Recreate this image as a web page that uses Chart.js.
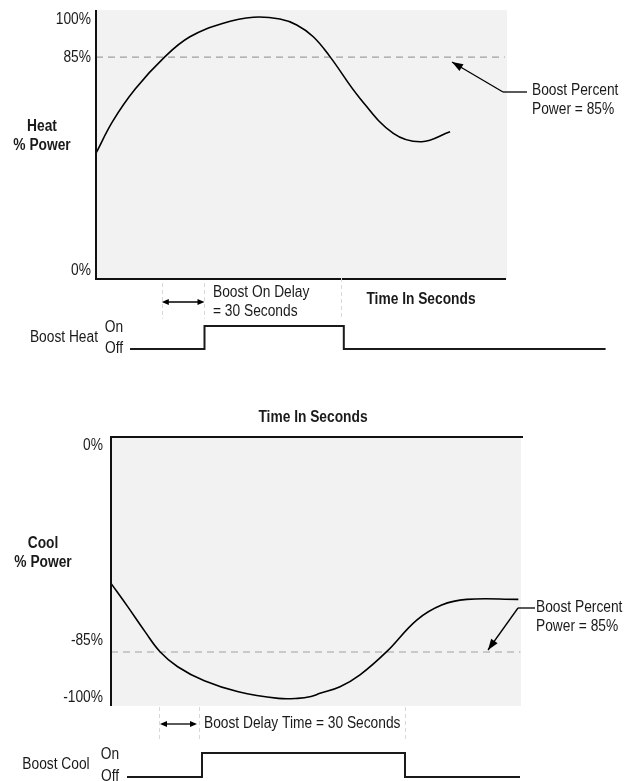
<!DOCTYPE html>
<html><head><meta charset="utf-8">
<script src="https://cdn.jsdelivr.net/npm/chart.js@4/dist/chart.umd.min.js"></script>
<style>html,body{margin:0;padding:0;background:#fff}canvas{display:block}</style>
</head><body>
<canvas id="heat" width="630" height="390"></canvas>
<canvas id="cool" width="630" height="391"></canvas>
<script>
// ---------- DATA ----------
// Heat chart: time (s) vs % power
const heatTime  = [0, 12, 28, 49.3, 67.1, 90.9, 112.4, 131.4, 143.4, 155.2, 167.1, 188.6, 212.4, 232.6, 252.9];
const heatPower = [48.2, 60.5, 72.8, 85.2, 92.8, 98.0, 100.3, 99.6, 97.3, 92.8, 85.2, 69.2, 55.8, 52.6, 56.4];
const heatBoostPercent = 85;
const heatTickLabels = ['100%', '85%', '0%'];
const heatSignalTime  = [24.3, 77.5, 77.5, 177, 177, 364];
const heatSignalState = [0, 0, 1, 1, 0, 0];
const heatMarkers = [47, 77.5, 175];

// Cool chart: time (s) vs % power
const coolTime  = [0, 12, 25.5, 36.75, 50, 70, 95.5, 125.5, 140, 150, 156.75, 171.75, 186.75, 206.75, 229.3, 248, 266.8, 305.5];
const coolPower = [-63.1, -70.2, -78.5, -84.9, -89.7, -94.2, -97.7, -99.8, -99.8, -99.2, -98.2, -96.1, -92.3, -84.9, -74.8, -70.0, -68.2, -68.2];
const coolBoostPercent = -85;
const coolTickLabels = ['0%', '-85%', '-100%'];
const coolSignalTime  = [12, 68.25, 68.25, 220.5, 220.5, 306.75];
const coolSignalState = [0, 0, 1, 1, 0, 0];
const coolMarkers = [36, 66, 220.5];

// ---------- HELPERS ----------
const W = 630;
function yRange(v0, p0, v1, p1, H) { const k = (p1 - p0) / (v0 - v1); const max = v0 + p0 / k; return {min: max - H / k, max}; }
function xRange(x0, r) { const min = -x0 / r; return {min, max: min + W / r}; }
const FONT = '"Liberation Sans", Arial, Helvetica, sans-serif';
const INK = '#1a1a1a';
function txt(ctx, s, x, y, align, bold) {
  ctx.save();
  ctx.translate(x, y);
  ctx.scale(0.86, 1);
  ctx.font = (bold ? 'bold ' : '') + '16px ' + FONT;
  ctx.fillStyle = INK;
  ctx.textAlign = align;
  ctx.textBaseline = 'middle';
  ctx.fillText(s, 0, 0);
  ctx.restore();
}
function line(ctx, x1, y1, x2, y2, w, c, dash) {
  ctx.save(); ctx.beginPath(); ctx.lineWidth = w; ctx.strokeStyle = c; ctx.setLineDash(dash || []);
  ctx.moveTo(x1, y1); ctx.lineTo(x2, y2); ctx.stroke(); ctx.restore();
}
function head(ctx, fx, fy, tx, ty, len, hw) {
  const a = Math.atan2(ty - fy, tx - fx);
  ctx.save(); ctx.fillStyle = '#000'; ctx.beginPath();
  ctx.moveTo(tx, ty);
  ctx.lineTo(tx - len * Math.cos(a) + hw * Math.sin(a), ty - len * Math.sin(a) - hw * Math.cos(a));
  ctx.lineTo(tx - len * Math.cos(a) - hw * Math.sin(a), ty - len * Math.sin(a) + hw * Math.cos(a));
  ctx.closePath(); ctx.fill(); ctx.restore();
}
function arrow(ctx, fx, fy, tx, ty, len, hw) { line(ctx, fx, fy, tx, ty, 1.3, '#000'); head(ctx, fx, fy, tx, ty, len, hw); }
function dblArrow(ctx, x1, x2, y) { line(ctx, x1 + 3, y, x2 - 3, y, 1.3, '#000'); head(ctx, x2, y, x1, y, 7, 3); head(ctx, x1, y, x2, y, 7, 3); }

function pts(xs, ys) { return xs.map((t, i) => ({x: t, y: ys[i]})); }

function makeChart(id, H, cfg) {
  return new Chart(document.getElementById(id), {
    type: 'line',
    data: {datasets: [
      {data: pts(cfg.time, cfg.power), yAxisID: 'y', borderColor: '#000', borderWidth: 1.6, pointRadius: 0, tension: 0.4, fill: false},
      {data: [{x: 0, y: cfg.boost}, {x: cfg.dashEnd, y: cfg.boost}], yAxisID: 'y', borderColor: '#a0a0a0', borderWidth: 1.2, borderDash: [7, 5], pointRadius: 0, fill: false},
      {data: pts(cfg.sigTime, cfg.sigState), yAxisID: 's', borderColor: '#1a1a1a', borderWidth: 2, pointRadius: 0, tension: 0, fill: false}
    ]},
    options: {
      responsive: false, animation: false, events: [],
      layout: {padding: 0},
      plugins: {legend: {display: false}, tooltip: {enabled: false}},
      scales: {
        x: Object.assign({type: 'linear', display: false}, cfg.xr),
        y: Object.assign({type: 'linear', display: false}, cfg.yr),
        s: Object.assign({type: 'linear', display: false}, cfg.sr)
      }
    },
    plugins: [{
      id: 'decor' + id,
      beforeDatasetsDraw(chart) { cfg.back(chart.ctx, chart); },
      afterDatasetsDraw(chart) { cfg.front(chart.ctx, chart); }
    }]
  });
}

// ---------- HEAT CHART ----------
makeChart('heat', 390, {
  time: heatTime, power: heatPower, boost: heatBoostPercent, dashEnd: 292,
  sigTime: heatSignalTime, sigState: heatSignalState,
  xr: xRange(96, 1.4),
  yr: yRange(100, 18, 0, 279, 390),
  sr: yRange(1, 326, 0, 349, 390),
  back(ctx, ch) {
    const x = ch.scales.x, y = ch.scales.y;
    ctx.save(); ctx.fillStyle = '#f2f2f2';
    ctx.fillRect(x.getPixelForValue(0), 10, 507 - x.getPixelForValue(0), y.getPixelForValue(0) - 10);
    ctx.restore();
  },
  front(ctx, ch) {
    const x = ch.scales.x, y = ch.scales.y;
    const x0 = x.getPixelForValue(0), yb = y.getPixelForValue(0);
    line(ctx, x0, 10, x0, yb + 1, 2, '#111');
    line(ctx, x0 - 1, yb, 506, yb, 2, '#111');
    heatMarkers.forEach((t, i) => {
      const px = Math.round(x.getPixelForValue(t)) + 0.5;
      line(ctx, px, i === 2 ? yb - 1 : 283, px, 319, 1, '#d8d8d8', [4, 3]);
    });
    dblArrow(ctx, x.getPixelForValue(heatMarkers[0]), x.getPixelForValue(heatMarkers[1]), 302);
    // tick labels
    txt(ctx, heatTickLabels[0], 91, 20, 'right');
    txt(ctx, heatTickLabels[1], 91, y.getPixelForValue(85), 'right');
    txt(ctx, heatTickLabels[2], 91, 271, 'right');
    txt(ctx, 'Heat', 42, 127, 'center', true);
    txt(ctx, '% Power', 42, 146, 'center', true);
    // annotation
    line(ctx, 503, 92, 527, 92, 1.3, '#000');
    arrow(ctx, 503, 92, 452, 62, 11, 4);
    txt(ctx, 'Boost Percent', 532, 91, 'left');
    txt(ctx, 'Power = 85%', 532, 110, 'left');
    txt(ctx, 'Boost On Delay', 213, 293, 'left');
    txt(ctx, '= 30 Seconds', 213, 312, 'left');
    txt(ctx, 'Time In Seconds', 421, 300, 'center', true);
    txt(ctx, 'Boost Heat', 98, 338, 'right');
    txt(ctx, 'On', 114, 328, 'center');
    txt(ctx, 'Off', 114, 349, 'center');
  }
});

// ---------- COOL CHART ----------
makeChart('cool', 391, {
  time: coolTime, power: coolPower, boost: coolBoostPercent, dashEnd: 307,
  sigTime: coolSignalTime, sigState: coolSignalState,
  xr: xRange(111, 40 / 30),
  yr: yRange(-85, 262, -100, 309, 391),
  sr: yRange(1, 363, 0, 387, 391),
  back(ctx, ch) {
    const x = ch.scales.x;
    const x0 = x.getPixelForValue(0);
    ctx.save(); ctx.fillStyle = '#f2f2f2';
    ctx.fillRect(x0, 47, 521 - x0, 316 - 47);
    ctx.restore();
  },
  front(ctx, ch) {
    const x = ch.scales.x, y = ch.scales.y;
    const x0 = x.getPixelForValue(0);
    line(ctx, x0 - 1, 47, 523, 47, 2, '#111');
    line(ctx, x0, 46, x0, 316, 2, '#111');
    coolMarkers.forEach((t) => {
      const px = Math.round(x.getPixelForValue(t)) + 0.5;
      line(ctx, px, 317, px, 351, 1, '#d8d8d8', [4, 3]);
    });
    dblArrow(ctx, x.getPixelForValue(coolMarkers[0]) + 1, x.getPixelForValue(coolMarkers[1]) - 2, 334);
    txt(ctx, 'Time In Seconds', 313, 28, 'center', true);
    txt(ctx, coolTickLabels[0], 103, 56, 'right');
    txt(ctx, coolTickLabels[1], 103, y.getPixelForValue(-85) - 11, 'right');
    txt(ctx, coolTickLabels[2], 103, 308, 'right');
    txt(ctx, 'Cool', 43, 154, 'center', true);
    txt(ctx, '% Power', 43, 173, 'center', true);
    line(ctx, 518, 218, 535, 218, 1.3, '#000');
    arrow(ctx, 518, 218, 488, 260, 11, 4);
    txt(ctx, 'Boost Percent', 536, 218, 'left');
    txt(ctx, 'Power = 85%', 536, 237, 'left');
    txt(ctx, 'Boost Delay Time = 30 Seconds', 204, 334, 'left');
    txt(ctx, 'Boost Cool', 56, 375, 'center');
    txt(ctx, 'On', 110, 365, 'center');
    txt(ctx, 'Off', 110, 387, 'center');
  }
});
</script>
</body></html>
